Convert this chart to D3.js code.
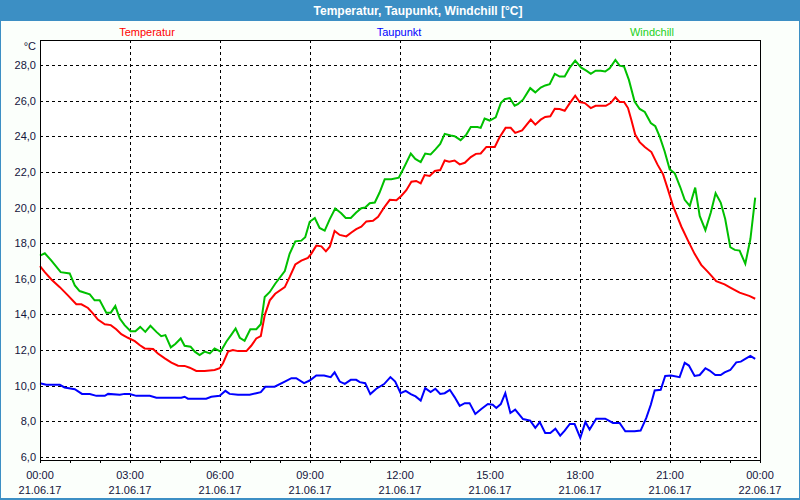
<!DOCTYPE html>
<html><head><meta charset="utf-8">
<script src="https://cdn.jsdelivr.net/npm/d3@7"></script>
<style>
html,body{margin:0;padding:0;background:#fff;}
svg{display:block;font-family:"Liberation Sans",Arial,sans-serif;}
</style></head><body>
<svg id="c" width="800" height="500"></svg>
<script>
const chartTitle = "Temperatur, Taupunkt, Windchill [°C]";
const seriesNames = ["Temperatur", "Taupunkt", "Windchill"];
const seriesColors = ["#ff0000", "#0000ff", "#00c000"];
const legendColors = ["#ff0000", "#0000ff", "#22d022"];
const yTicks = [6, 8, 10, 12, 14, 16, 18, 20, 22, 24, 26, 28];
const xTickHours = [0, 3, 6, 9, 12, 15, 18, 21, 24];
const startDate = new Date(2017, 5, 21, 0, 0);

// [hour of day, °C]
const temperatur = [[0,16.71],[0.16,16.37],[0.38,15.96],[0.66,15.53],[0.93,15.07],[1.21,14.57],[1.38,14.57],[1.6,14.36],[1.77,14.05],[1.93,13.71],[2.16,13.45],[2.36,13.40],[2.54,13.17],[2.71,12.89],[2.93,12.69],[3.16,12.50],[3.32,12.28],[3.49,12.09],[3.77,12.06],[3.93,11.81],[4.16,11.53],[4.38,11.29],[4.6,11.12],[4.82,11.11],[4.99,11.01],[5.21,10.83],[5.49,10.83],[5.82,10.88],[5.99,10.98],[6.1,11.26],[6.27,11.91],[6.43,12.00],[6.6,11.94],[6.88,11.94],[7.04,12.24],[7.21,12.65],[7.36,12.78],[7.49,13.95],[7.66,14.79],[7.84,15.16],[8.16,15.53],[8.32,16.09],[8.51,16.80],[8.71,17.02],[8.93,17.17],[9.04,17.40],[9.21,17.86],[9.38,17.82],[9.53,17.54],[9.66,17.80],[9.82,18.68],[9.99,18.46],[10.21,18.38],[10.38,18.60],[10.54,18.79],[10.71,18.92],[10.88,19.22],[11.1,19.26],[11.27,19.48],[11.47,20.00],[11.66,20.43],[11.88,20.41],[12.04,20.65],[12.21,20.97],[12.38,21.45],[12.54,21.49],[12.69,21.36],[12.82,21.82],[12.99,21.77],[13.16,22.05],[13.34,22.10],[13.49,22.64],[13.64,22.57],[13.82,22.64],[13.99,22.42],[14.16,22.51],[14.36,22.83],[14.53,23.01],[14.69,23.03],[14.88,23.40],[15.16,23.40],[15.31,23.91],[15.52,24.47],[15.69,24.47],[15.84,24.19],[16.07,24.33],[16.36,24.93],[16.51,24.65],[16.69,24.93],[16.84,25.08],[17.01,25.12],[17.16,25.54],[17.32,25.53],[17.49,25.43],[17.66,25.86],[17.84,26.27],[17.99,25.92],[18.16,25.86],[18.36,25.58],[18.52,25.71],[18.86,25.71],[19.02,25.86],[19.18,26.18],[19.32,25.92],[19.47,25.92],[19.6,25.58],[19.71,24.93],[19.84,24.09],[19.99,23.67],[20.16,23.40],[20.38,23.11],[20.58,22.42],[20.77,21.86],[20.93,21.02],[21.1,20.09],[21.38,18.92],[21.6,18.14],[21.82,17.40],[22.04,16.78],[22.27,16.37],[22.54,15.87],[22.82,15.69],[23.04,15.48],[23.32,15.22],[23.66,15.03],[23.84,14.88]];

const taupunkt = [[0,10.14],[0.21,10.05],[0.66,10.05],[0.82,9.90],[1.16,9.80],[1.4,9.54],[1.66,9.53],[1.88,9.43],[2.16,9.43],[2.27,9.54],[2.66,9.49],[2.82,9.54],[2.99,9.53],[3.21,9.43],[3.66,9.43],[3.88,9.32],[4.71,9.32],[4.82,9.38],[4.93,9.27],[5.54,9.27],[5.71,9.38],[5.99,9.43],[6.18,9.71],[6.32,9.54],[6.6,9.49],[6.99,9.49],[7.21,9.58],[7.36,9.64],[7.51,9.94],[7.82,9.94],[8.16,10.23],[8.38,10.42],[8.54,10.42],[8.8,10.14],[8.99,10.29],[9.21,10.57],[9.47,10.57],[9.69,10.48],[9.82,10.75],[9.99,10.23],[10.16,10.10],[10.36,10.33],[10.54,10.33],[10.66,10.20],[10.84,10.14],[11.01,9.53],[11.21,9.83],[11.47,10.09],[11.68,10.48],[11.84,10.23],[12.02,9.58],[12.19,9.71],[12.36,9.53],[12.52,9.40],[12.69,9.17],[12.84,9.86],[13.02,9.64],[13.18,9.83],[13.34,9.54],[13.49,9.58],[13.66,9.77],[13.82,9.36],[13.99,8.87],[14.16,9.02],[14.32,9.02],[14.51,8.41],[14.71,8.69],[14.93,8.97],[15.09,8.93],[15.21,8.75],[15.36,8.97],[15.51,9.58],[15.68,8.47],[15.84,8.66],[16.1,8.13],[16.34,8.04],[16.51,7.63],[16.66,7.96],[16.84,7.35],[17.01,7.35],[17.18,7.59],[17.34,7.20],[17.49,7.48],[17.66,7.85],[17.82,7.85],[18.01,7.07],[18.18,7.96],[18.32,7.54],[18.54,8.15],[18.84,8.15],[19.1,7.91],[19.32,7.91],[19.51,7.44],[19.82,7.44],[20.02,7.48],[20.21,8.19],[20.36,8.93],[20.49,9.73],[20.69,9.77],[20.84,10.55],[21.04,10.57],[21.32,10.48],[21.49,11.29],[21.63,11.13],[21.82,10.55],[21.99,10.60],[22.18,10.98],[22.32,10.85],[22.51,10.60],[22.69,10.60],[22.82,10.75],[23.01,10.88],[23.21,11.31],[23.36,11.35],[23.51,11.50],[23.68,11.67],[23.84,11.50]];

const windchill = [[0,17.30],[0.16,17.43],[0.38,17.02],[0.69,16.37],[0.99,16.30],[1.16,15.63],[1.32,15.31],[1.66,15.13],[1.82,14.79],[1.99,14.79],[2.21,14.10],[2.36,14.10],[2.51,14.47],[2.66,13.77],[2.82,13.40],[3.02,13.06],[3.18,13.06],[3.34,13.30],[3.51,13.02],[3.68,13.36],[3.88,13.02],[4.04,12.78],[4.18,12.84],[4.36,12.15],[4.51,12.34],[4.69,12.65],[4.82,12.24],[5.02,12.19],[5.16,11.91],[5.32,11.72],[5.49,11.91],[5.66,11.81],[5.82,12.09],[6.02,11.91],[6.21,12.47],[6.38,12.87],[6.52,13.21],[6.66,12.69],[6.82,12.52],[7.01,13.17],[7.21,13.17],[7.36,13.45],[7.49,14.98],[7.66,15.26],[7.84,15.72],[8.16,16.43],[8.32,17.40],[8.51,18.10],[8.71,18.14],[8.84,18.33],[8.99,19.20],[9.16,19.41],[9.32,18.85],[9.49,18.70],[9.66,19.35],[9.84,19.94],[10.04,19.68],[10.19,19.41],[10.36,19.41],[10.54,19.72],[10.71,19.96],[10.84,20.00],[10.99,20.24],[11.16,20.28],[11.32,20.84],[11.49,21.58],[11.71,21.58],[11.96,21.67],[12.13,22.23],[12.36,23.03],[12.51,22.73],[12.69,22.55],[12.84,23.03],[13.02,22.98],[13.18,23.26],[13.34,23.57],[13.49,24.13],[13.69,24.04],[13.82,24.00],[14.02,23.78],[14.21,24.09],[14.36,24.52],[14.58,24.52],[14.69,24.47],[14.82,24.99],[14.99,24.88],[15.19,25.06],[15.36,25.86],[15.49,26.08],[15.66,26.14],[15.82,25.71],[15.93,25.80],[16.1,26.05],[16.34,26.70],[16.51,26.46],[16.69,26.73],[16.84,26.85],[16.99,26.92],[17.16,27.50],[17.32,27.35],[17.49,27.35],[17.66,27.85],[17.84,28.24],[18.04,27.85],[18.21,27.68],[18.36,27.50],[18.52,27.68],[18.69,27.67],[18.84,27.63],[18.99,27.81],[19.18,28.28],[19.32,27.96],[19.47,27.91],[19.63,27.16],[19.82,25.95],[19.99,25.53],[20.16,25.36],[20.36,24.74],[20.51,24.56],[20.66,23.96],[20.82,23.16],[20.99,22.14],[21.16,21.92],[21.34,21.15],[21.49,20.43],[21.66,20.09],[21.84,21.12],[21.99,19.53],[22.18,18.73],[22.36,19.72],[22.52,20.80],[22.69,20.28],[22.84,19.35],[23.01,17.77],[23.16,17.62],[23.32,17.58],[23.51,16.84],[23.68,18.23],[23.84,20.56]];

const allSeries = [temperatur, taupunkt, windchill];

const svg = d3.select("#c");
const W = 800, H = 500;
const m = {left: 40, right: 40, top: 40, bottom: 40};
const toDate = h => new Date(startDate.getTime() + h * 3600000);

// background & frame
svg.append("rect").attr("x",0).attr("y",0).attr("width",W).attr("height",H).attr("fill","#3c8fc4");
svg.append("rect").attr("x",1).attr("y",21).attr("width",W-2).attr("height",H-23).attr("fill","#fbfffb");
svg.append("text").attr("x",418).attr("y",15).attr("text-anchor","middle")
  .attr("fill","#ffffff").attr("font-weight","bold").attr("font-size","12px").text(chartTitle);

const x = d3.scaleTime().domain([toDate(0), toDate(24)]).range([m.left, W - m.right]);
const y = d3.scaleLinear().domain([5.83, 29.4]).range([H - m.bottom, m.top]);

const plot = svg.append("g");
plot.append("rect").attr("x", m.left).attr("y", m.top)
  .attr("width", W - m.left - m.right).attr("height", H - m.top - m.bottom).attr("fill", "#ffffff");

// grid
plot.selectAll(".hg").data(yTicks).join("line")
  .attr("x1", m.left).attr("x2", W - m.right)
  .attr("y1", d => Math.round(y(d)) + 0.5).attr("y2", d => Math.round(y(d)) + 0.5)
  .attr("stroke", "#000").attr("stroke-dasharray", "3,3");
plot.selectAll(".vg").data(xTickHours.slice(1, -1)).join("line")
  .attr("x1", d => Math.round(x(toDate(d))) + 0.5).attr("x2", d => Math.round(x(toDate(d))) + 0.5)
  .attr("y1", m.top).attr("y2", H - m.bottom)
  .attr("stroke", "#000").attr("stroke-dasharray", "3,3");

// lines
const line = d3.line().x(d => x(toDate(d[0]))).y(d => y(d[1]));
allSeries.forEach((s, i) => {
  plot.append("path").datum(s).attr("d", line).attr("fill", "none")
    .attr("stroke", seriesColors[i]).attr("stroke-width", 2).attr("stroke-linejoin", "miter");
});

// border
plot.append("rect").attr("x", m.left + 0.5).attr("y", m.top + 0.5)
  .attr("width", W - m.left - m.right).attr("height", H - m.top - m.bottom)
  .attr("fill", "none").attr("stroke", "#000");

const textCol = "#14143c";
// y axis labels
const fmt = d => d3.format(".1f")(d).replace(".", ",");
svg.selectAll(".yl").data(yTicks).join("text")
  .attr("x", 36).attr("y", d => y(d) + 4).attr("text-anchor", "end")
  .attr("font-size", "11px").attr("fill", textCol).text(fmt);
svg.append("text").attr("x", 36).attr("y", 50).attr("text-anchor", "end")
  .attr("font-size", "11px").attr("fill", textCol).text("°C");

// x axis ticks
const hours = d3.range(0, 25);
svg.selectAll(".xt").data(hours).join("line")
  .attr("x1", d => Math.round(x(toDate(d))) + 0.5).attr("x2", d => Math.round(x(toDate(d))) + 0.5)
  .attr("y1", H - m.bottom).attr("y2", H - m.bottom + 3).attr("stroke", "#000");
const fTime = d3.timeFormat("%H:%M"), fDate = d3.timeFormat("%d.%m.%y");
const xl = svg.selectAll(".xl").data(xTickHours).join("g");
xl.append("text").attr("x", d => x(toDate(d))).attr("y", 479).attr("text-anchor", "middle")
  .attr("font-size", "11px").attr("fill", textCol).text(d => fTime(toDate(d)));
xl.append("text").attr("x", d => x(toDate(d))).attr("y", 494).attr("text-anchor", "middle")
  .attr("font-size", "11px").attr("fill", textCol).text(d => fDate(toDate(d)));

// legend
const legendX = [147, 399, 652];
svg.selectAll(".lg").data(seriesNames).join("text")
  .attr("x", (d, i) => legendX[i]).attr("y", 36).attr("text-anchor", "middle")
  .attr("font-size", "11px").attr("fill", (d, i) => legendColors[i]).text(d => d);
</script>
</body></html>
